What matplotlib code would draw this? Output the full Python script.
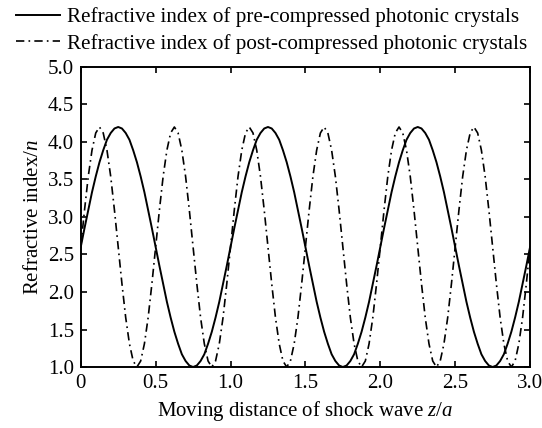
#!/usr/bin/env python3
import numpy as np
import matplotlib
matplotlib.use("Agg")
import matplotlib.pyplot as plt

plt.rcParams['font.family'] = ['Liberation Serif', 'DejaVu Serif']
plt.rcParams['mathtext.fontset'] = 'custom'
plt.rcParams['mathtext.rm'] = 'Liberation Serif'
plt.rcParams['mathtext.it'] = 'Liberation Serif:italic'

# values (refractive index n)
# pre-compressed: one sample every 0.025 z/a
n_pre = [2.60, 2.85, 3.09, 3.33, 3.54, 3.73, 3.89, 4.03, 4.12, 4.18,
         4.20, 4.18, 4.12, 4.03, 3.89, 3.73, 3.54, 3.33, 3.09, 2.85,
         2.60, 2.35, 2.11, 1.87, 1.66, 1.47, 1.31, 1.17, 1.08, 1.02,
         1.00, 1.02, 1.08, 1.17, 1.31, 1.47, 1.66, 1.87, 2.11, 2.35,
         2.60, 2.85, 3.09, 3.33, 3.54, 3.73, 3.89, 4.03, 4.12, 4.18,
         4.20, 4.18, 4.12, 4.03, 3.89, 3.73, 3.54, 3.33, 3.09, 2.85,
         2.60, 2.35, 2.11, 1.87, 1.66, 1.47, 1.31, 1.17, 1.08, 1.02,
         1.00, 1.02, 1.08, 1.17, 1.31, 1.47, 1.66, 1.87, 2.11, 2.35,
         2.60, 2.85, 3.09, 3.33, 3.54, 3.73, 3.89, 4.03, 4.12, 4.18,
         4.20, 4.18, 4.12, 4.03, 3.89, 3.73, 3.54, 3.33, 3.09, 2.85,
         2.60, 2.35, 2.11, 1.87, 1.66, 1.47, 1.31, 1.17, 1.08, 1.02,
         1.00, 1.02, 1.08, 1.17, 1.31, 1.47, 1.66, 1.87, 2.11, 2.35,
         2.60]
# post-compressed: one sample every 0.025 z/a
n_post = [2.60, 3.09, 3.54, 3.89, 4.12, 4.20, 4.12, 3.89, 3.54, 3.09,
          2.60, 2.11, 1.66, 1.31, 1.08, 1.00, 1.08, 1.31, 1.66, 2.11,
          2.60, 3.09, 3.54, 3.89, 4.12, 4.20, 4.12, 3.89, 3.54, 3.09,
          2.60, 2.11, 1.66, 1.31, 1.08, 1.00, 1.08, 1.31, 1.66, 2.11,
          2.60, 3.09, 3.54, 3.89, 4.12, 4.20, 4.12, 3.89, 3.54, 3.09,
          2.60, 2.11, 1.66, 1.31, 1.08, 1.00, 1.08, 1.31, 1.66, 2.11,
          2.60, 3.09, 3.54, 3.89, 4.12, 4.20, 4.12, 3.89, 3.54, 3.09,
          2.60, 2.11, 1.66, 1.31, 1.08, 1.00, 1.08, 1.31, 1.66, 2.11,
          2.60, 3.09, 3.54, 3.89, 4.12, 4.20, 4.12, 3.89, 3.54, 3.09,
          2.60, 2.11, 1.66, 1.31, 1.08, 1.00, 1.08, 1.31, 1.66, 2.11,
          2.60, 3.09, 3.54, 3.89, 4.12, 4.20, 4.12, 3.89, 3.54, 3.09,
          2.60, 2.11, 1.66, 1.31, 1.08, 1.00, 1.08, 1.31, 1.66, 2.11,
          2.60]
z_pre = np.linspace(0.0, 3.0, len(n_pre))
z_post = np.linspace(0.0, 3.0, len(n_post))

x_ticks = [0, 0.5, 1.0, 1.5, 2.0, 2.5, 3.0]
x_labels = ['0', '0.5', '1.0', '1.5', '2.0', '2.5', '3.0']
y_ticks = [1.0, 1.5, 2.0, 2.5, 3.0, 3.5, 4.0, 4.5, 5.0]

fig = plt.figure(figsize=(5.42, 4.28), dpi=100)
ax = fig.add_axes([0.149, 0.1425, 0.829, 0.701])

l1, = ax.plot(z_pre, n_pre, color='black', lw=1.4,
              label='Refractive index of pre-compressed photonic crystals')
l2, = ax.plot(z_post, n_post, color='black', lw=1.2, dashes=(5, 2.5, 1, 2.5),
              label='Refractive index of post-compressed photonic crystals')

ax.set_xlim(0, 3.0)
ax.set_ylim(1.0, 5.0)
ax.set_xticks(x_ticks)
ax.set_xticklabels(x_labels)
ax.set_yticks(y_ticks)
ax.set_yticklabels(['%.1f' % v for v in y_ticks])
ax.tick_params(direction='in', top=True, right=True, length=4, width=1.2,
               labelsize=15, pad=5)
for s in ax.spines.values():
    s.set_linewidth(1.4)

ax.set_xlabel('Moving distance of shock wave $z$/$a$', fontsize=15, labelpad=4)
ax.set_ylabel('Refractive index/$n$', fontsize=15, labelpad=3)

fig.legend(handles=[l1, l2], loc='upper left', bbox_to_anchor=(0.006, 1.012),
           frameon=False, fontsize=15.2, handlelength=2.1, handletextpad=0.3,
           labelspacing=0.3, borderaxespad=0.2)

fig.savefig('out.png', dpi=100)
